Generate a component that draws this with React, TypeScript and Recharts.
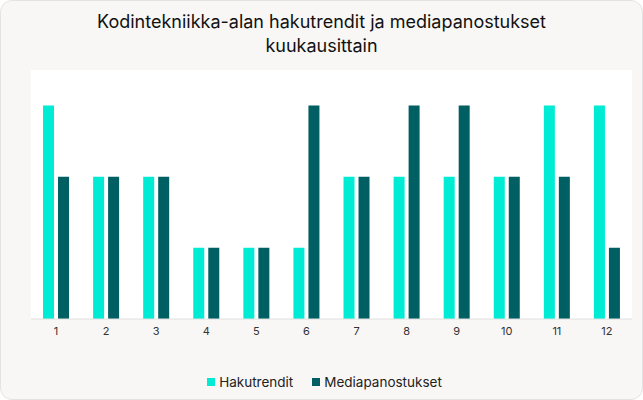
import React from "react";
import { BarChart, Bar, XAxis, YAxis, CartesianGrid, Legend } from "recharts";

const months = ["1", "2", "3", "4", "5", "6", "7", "8", "9", "10", "11", "12"];
const hakutrendit = [3, 2, 2, 1, 1, 1, 2, 2, 2, 2, 3, 3];
const mediapanostukset = [2, 2, 2, 1, 1, 3, 2, 3, 3, 2, 2, 1];

const data = months.map((month, i) => ({
  month,
  Hakutrendit: hakutrendit[i],
  Mediapanostukset: mediapanostukset[i],
}));

const FONT = "Inter, 'Noto Sans', sans-serif";

const seriesColors: Record<string, string> = {
  Hakutrendit: "#00ebd4",
  Mediapanostukset: "#005f63",
};

const renderLegend = () => (
  <div
    style={{
      display: "flex",
      justifyContent: "center",
      gap: 19,
      paddingRight: 14,
      fontSize: 13.5,
      color: "#222",
      fontFamily: FONT,
    }}
  >
    {Object.keys(seriesColors).map((name) => (
      <div key={name} style={{ display: "flex", alignItems: "center", gap: 4 }}>
        <span style={{ width: 8, height: 8, background: seriesColors[name], display: "inline-block" }} />
        <span>{name}</span>
      </div>
    ))}
  </div>
);

const App = () => {
  return (
    <div
      style={{
        position: "absolute",
        left: 0,
        top: 0,
        width: 643,
        height: 400,
        boxSizing: "border-box",
        border: "1px solid #e3e3e3",
        borderRadius: 12,
        background: "#f8f7f5",
        fontFamily: FONT,
        overflow: "hidden",
      }}
    >
      <div
        style={{
          position: "absolute",
          top: 9,
          left: 0,
          width: 641,
          textAlign: "center",
          fontSize: 18,
          lineHeight: "24px",
          fontWeight: 400,
          color: "#111",
        }}
      >
        Kodintekniikka-alan hakutrendit ja mediapanostukset
        <br />
        kuukausittain
      </div>
      <div style={{ position: "absolute", top: 59, left: 0 }}>
        <BarChart
          width={641}
          height={340}
          data={data}
          margin={{ top: 10, right: 10, left: 30, bottom: 10 }}
          barCategoryGap="24%"
          barGap={4}
        >
          <CartesianGrid horizontal={false} vertical={false} fill="#ffffff" />
          <XAxis
            dataKey="month"
            height={55}
            tickLine={false}
            axisLine={{ stroke: "#e0e0e0" }}
            tick={{ fontSize: 11, fill: "#333", fontFamily: FONT }}
            tickMargin={2}
          />
          <YAxis hide domain={[0, 3.5]} />
          <Legend verticalAlign="bottom" content={renderLegend} />
          <Bar dataKey="Hakutrendit" fill={seriesColors.Hakutrendit} isAnimationActive={false} />
          <Bar dataKey="Mediapanostukset" fill={seriesColors.Mediapanostukset} isAnimationActive={false} />
        </BarChart>
      </div>
    </div>
  );
};

export default App;
